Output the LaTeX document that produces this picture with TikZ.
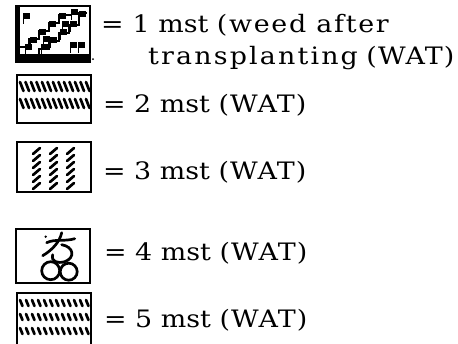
\documentclass[tikz,border=0pt]{standalone}
\usepackage{fontspec}
\setmainfont{DejaVu Serif}[FakeStretch=1.12]
\newfontfamily\watfont{DejaVu Serif}[FakeStretch=1.12,LetterSpace=5]
\newfontfamily\widefont{DejaVu Serif}[FakeStretch=1.12,LetterSpace=7]
\newfontfamily\widerfont{DejaVu Serif}[FakeStretch=1.12,LetterSpace=9]
\newcommand{\wat}{{\watfont(WAT)}}
\begin{document}
\begin{tikzpicture}[x=1pt,y=-1pt,
  keybox/.style={draw=black,line width=2.6pt,inner sep=0pt,minimum width=74pt},
  lbl/.style={anchor=base west,inner sep=0pt,font=\fontsize{24}{24}\selectfont},
  hatch/.style={line width=2.7pt,line cap=round},
  flag/.style={line width=1.4pt}]
\useasboundingbox (0,0) rectangle (458,343);

% boxes
\node[keybox,minimum height=56pt] (b1) at (53,34) {};
\node[keybox,minimum height=48pt] (b2) at (54,99) {};
\node[keybox,minimum height=50pt] (b3) at (54,167) {};
\node[keybox,minimum height=54pt] (b4) at (53,256) {};
\node[keybox,minimum height=54pt] (b5) at (54,320) {};

% labels
\node[lbl] (t1) at (101,32) {=\hspace{9pt}1 mst {\widefont(weed after}};
\node[lbl] (t1b) at (148,64) {{\widerfont transplanting} \wat};
\node[lbl] (t2) at (103,112) {= 2 mst \wat};
\node[lbl] (t3) at (103,179) {= 3 mst \wat};
\node[lbl] (t4) at (104,260) {= 4 mst \wat};
\node[lbl] (t5) at (104,327) {= 5 mst \wat};

% pattern 1: staircases with flags
\begin{scope}[shift={(b1.north west)}]
  \fill (0,0) rectangle (5,56);
  \fill (0,49) rectangle (74,56);
  \draw[line width=1.9pt] (5,42) -- (14,42) -- (14,34) -- (24,34) -- (24,26) -- (34,26) -- (34,18) -- (44,18) -- (44,10) -- (56,10);
  \draw[line width=1.9pt] (24,49) -- (24,44) -- (34,44) -- (34,36) -- (44,36) -- (44,28) -- (54,28) -- (54,20) -- (64,20) -- (64,8) -- (72,8);
  \foreach \fx/\fy in {9/9, 16/33, 25/25, 35/17, 45/9, 57/5, 27/40, 36/33, 46/25, 56/17, 65/7, 56/38, 64/38, 11/40, 29/32, 48/17}{
    \draw[flag] (\fx,\fy) -- (\fx,\fy+10);
    \draw[flag,fill=black] (\fx,\fy) rectangle (\fx+5.5,\fy+4.5);
  }
\end{scope}
\fill (93,59) circle (1pt);

% pattern 2: two rows of backslash hatches
\foreach \hx in {20,25.5,...,86}{
  \draw[hatch] (\hx,82) -- (\hx+3.5,91);
  \draw[hatch] (\hx,99) -- (\hx+3.5,108);
}

% pattern 3: three columns of slash hatches
\foreach \cx in {33,50,67}{
  \foreach \vy in {154,161,...,190}{
    \draw[hatch] (\cx,\vy) -- (\cx+7,\vy-6);
  }
}

% pattern 4: symbol
\begin{scope}[shift={(b4.north west)}]
  \draw[line width=2.7pt] (36,43) circle (9);
  \draw[line width=2.7pt] (54,44) circle (8.5);
  \draw[line width=2.7pt,line cap=round] (32,15) .. controls (40,11) and (50,14) .. (60,11);
  \draw[line width=2.7pt,line cap=round] (47,5) .. controls (45,14) and (38,22) .. (28,28);
  \draw[line width=2.7pt,line cap=round] (47,17) .. controls (59,19) and (61,30) .. (50,34) .. controls (43,36) and (36,34) .. (38,27);
  \fill (31,9) circle (1.3pt);
\end{scope}

% pattern 5: three rows of backslash hatches
\foreach \hx in {20,26,...,87}{
  \draw[hatch] (\hx,300) -- (\hx+2.5,306);
  \draw[hatch] (\hx,314) -- (\hx+2.5,320);
  \draw[hatch] (\hx,328) -- (\hx+2.5,334);
}
\end{tikzpicture}
\end{document}
